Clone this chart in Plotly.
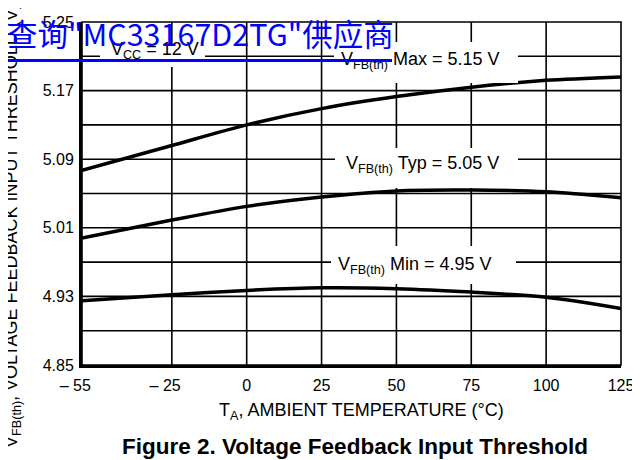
import plotly.graph_objects as go

# ---- data ----
temps = [-55, -25, 0, 25, 50, 75, 100, 125]
vfb_max = [5.077, 5.106, 5.130, 5.149, 5.163, 5.174, 5.182, 5.186]
vfb_typ = [4.998, 5.019, 5.035, 5.046, 5.053, 5.054, 5.052, 5.045]
vfb_min = [4.925, 4.932, 4.937, 4.940, 4.939, 4.935, 4.929, 4.916]

x_ticks = [-55, -25, 0, 25, 50, 75, 100, 125]
x_ticktext = ["\u2013 55\u00a0\u00a0\u00a0", "\u2013 25\u00a0\u00a0\u00a0", "0", "25", "50", "75", "100", "125"]
y_ticks = [4.85, 4.89, 4.93, 4.97, 5.01, 5.05, 5.09, 5.13, 5.17, 5.21, 5.25]
y_ticktext = ["4.85", "", "4.93", "", "5.01", "", "5.09", "", "5.17", "", "5.25"]

FONT = "Liberation Sans, Arial, sans-serif"

fig = go.Figure()
for ys in (vfb_max, vfb_typ, vfb_min):
    fig.add_trace(go.Scatter(x=temps, y=ys, mode="lines",
                             line=dict(color="black", width=3.5, shape="spline", smoothing=0.8),
                             hoverinfo="skip", showlegend=False))

shapes = []
# grid lines drawn from the tick arrays
for xv in x_ticks[1:-1]:
    shapes.append(dict(type="line", xref="x", yref="paper", x0=xv, x1=xv, y0=0, y1=1,
                       line=dict(color="black", width=1.6), layer="below"))
for yv in y_ticks[1:-1]:
    shapes.append(dict(type="line", xref="paper", yref="y", x0=0, x1=1, y0=yv, y1=yv,
                       line=dict(color="black", width=1.6), layer="below"))
shapes.append(dict(type="rect", xref="paper", yref="paper", x0=0, x1=1, y0=0, y1=1,
                   line=dict(color="black", width=1.6), layer="above"))

def box(x, y, w, h, color="white", ref=("x", "y")):
    return dict(x=x, y=y, xref=ref[0], yref=ref[1], text=" ", showarrow=False,
                width=w, height=h, bgcolor=color, borderpad=0, borderwidth=0,
                font=dict(size=1), xanchor="center", yanchor="middle")

def label(x, y, text):
    return dict(x=x, y=y, xref="x", yref="y", text=text, showarrow=False,
                xanchor="center", yanchor="middle",
                font=dict(family=FONT, size=18, color="black"))

annotations = [
    box(-31.6, 5.2101, 105, 22),
    box(60.0, 5.2027, 184, 41),
    box(60.2, 5.0802, 183, 40),
    box(58.9, 4.9662, 185, 38),
    label(-30.6, 5.2170, "V<sub>CC</sub> = 12 V"),
    label(57.9, 5.2050, "V<sub>FB(th)</sub> Max = 5.15 V"),
    label(58.7, 5.0836, "V<sub>FB(th)</sub> Typ = 5.05 V"),
    label(56.2, 4.9660, "V<sub>FB(th)</sub> Min = 4.95 V"),
    # axis titles
    dict(x=-0.1289, y=0.407, xref="paper", yref="paper", textangle=-90,
         xanchor="center", yanchor="middle",
         text="V<sub>FB(th)</sub>, VOLTAGE FEEDBACK INPUT THRESHOLD (V)", showarrow=False,
         font=dict(family=FONT, size=18, color="black")),
    dict(x=0.518, y=-0.137, xref="paper", yref="paper", xanchor="center", yanchor="middle",
         text="T<sub>A</sub>, AMBIENT TEMPERATURE (\u00b0C)", showarrow=False,
         font=dict(family=FONT, size=18, color="black")),
    dict(x=0.506, y=-0.238, xref="paper", yref="paper", xanchor="center", yanchor="middle",
         text="<b>Figure 2. Voltage Feedback Input Threshold</b>", showarrow=False,
         font=dict(family=FONT, size=22.5, color="black")),
    # watermark + underline
    box(0.2173, 0.889, 386, 2.5, color="#0000ff", ref=("paper", "paper")),
    dict(x=-0.1436, y=0.968, xref="paper", yref="paper", xanchor="left", yanchor="middle",
         text="查询\"MC33167D2TG\"供应商", showarrow=False,
         font=dict(family="Noto Sans CJK SC, sans-serif", size=30.5, color="#0000ff")),
]

fig.update_layout(
    width=632, height=452,
    margin=dict(l=74, r=15, t=6, b=95),
    paper_bgcolor="white", plot_bgcolor="white",
    shapes=shapes, annotations=annotations,
    xaxis=dict(range=[-55, 125], tickvals=x_ticks, ticktext=x_ticktext,
               showgrid=False, zeroline=False,
               showline=True, linecolor="black", linewidth=3, ticks="",
               ticklabeloverflow="allow", ticklabelstandoff=4,
               tickfont=dict(family=FONT, size=16, color="black"), fixedrange=True),
    yaxis=dict(range=[4.85, 5.25], tickvals=y_ticks, ticktext=y_ticktext,
               showgrid=False, zeroline=False,
               showline=True, linecolor="black", linewidth=3, ticks="",
               ticklabeloverflow="allow", ticklabelstandoff=2,
               tickfont=dict(family=FONT, size=16, color="black"), fixedrange=True),
)

fig.write_html("out.html")
